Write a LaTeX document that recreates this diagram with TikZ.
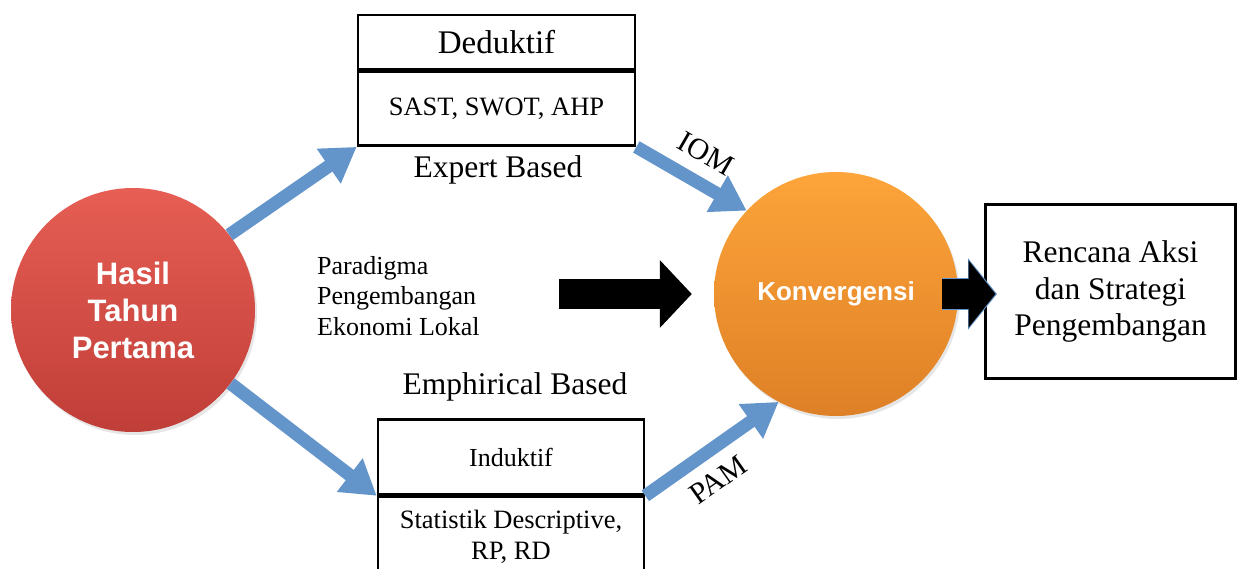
\documentclass[tikz,border=0pt]{standalone}
\usepackage{fontspec}
\setmainfont{Liberation Serif}
\setsansfont{Liberation Sans}
\usetikzlibrary{arrows.meta, positioning, shadows}
\definecolor{arrowblue}{RGB}{99,149,203}
\definecolor{redtop}{RGB}{230,94,84}
\definecolor{redbot}{RGB}{192,62,56}
\definecolor{orgtop}{RGB}{253,164,58}
\definecolor{orgbot}{RGB}{222,128,38}
\newcommand{\ukuran}[2]{\fontsize{#1}{#2}\selectfont}

\begin{document}
\begin{tikzpicture}[x=1pt, y=-1pt,
    box/.style={draw, line width=2.6pt, inner sep=0pt, align=center},
    bola/.style={circle, minimum size=244pt, inner sep=0pt, align=center, text=white,
        drop shadow={opacity=.2, shadow xshift=2pt, shadow yshift=-3pt}},
    panah/.style={arrowblue, line width=13pt, -{Triangle[width=40pt, length=34pt]}},
    hitam/.style={line width=30pt, -{Triangle[width=66pt, length=32pt]}}]
    \useasboundingbox (0,0) rectangle (1244,569);
    \clip (0,0) rectangle (1244,569);
    % kotak atas
    \node[box, minimum width=277pt, minimum height=54pt, font=\ukuran{33}{40}] (ded) at (496.5,42) {Deduktif};
    \node[box, minimum width=277pt, minimum height=74pt, below=0pt of ded, font=\ukuran{26.5}{32}] (sast) {SAST, SWOT, AHP};
    \node[font=\ukuran{31.5}{38}] (expert) at (498,170) {Expert Based};
    % kotak bawah
    \node[font=\ukuran{31.5}{38}] (emp) at (515,387) {Emphirical Based};
    \node[box, minimum width=266pt, minimum height=75pt, font=\ukuran{26}{32}] (ind) at (511,457) {Induktif};
    \node[box, minimum width=266pt, minimum height=80pt, below=0pt of ind, font=\ukuran{26.5}{31}] (stat) {Statistik Descriptive,\\RP, RD};
    \node[font=\ukuran{26}{30.5}, align=left, anchor=west, inner sep=0pt] (para) at (317,296) {Paradigma\\Pengembangan\\Ekonomi Lokal};
    % lingkaran
    \node[bola, top color=redtop, bottom color=redbot, font=\sffamily\bfseries\ukuran{31}{37}] (hasil) at (133,310) {Hasil\\Tahun\\Pertama};
    \node[bola, top color=orgtop, bottom color=orgbot, font=\sffamily\bfseries\ukuran{26}{30}] (konv) at (836,294) {Konvergensi};
    \node[box, line width=3pt, minimum width=250pt, minimum height=174pt, font=\ukuran{31.5}{36.5}] (aksi) at (1110.5,291.5) {Rencana Aksi\\dan Strategi\\Pengembangan};
    % panah biru
    \draw[panah] (hasil.38) -- (sast.south west);
    \draw[panah] (hasil.-37) -- (ind.south west);
    \draw[panah] (sast.south east) -- node[sloped, above=9pt, text=black, font=\ukuran{30}{32}] {IOM} (konv.137);
    \draw[panah] (ind.south east) -- node[sloped, below=9pt, pos=.42, text=black, font=\ukuran{30}{32}] {PAM} (konv.-118);
    % panah hitam
    \coordinate (p1) at (559,294);
    \draw[hitam, shorten >=22pt] (p1) -- (konv.west);
    \coordinate (k1) at (942,294);
    \coordinate (k2) at (997,294);
    \draw[arrowblue, line width=32pt, -{Triangle[width=70pt, length=29pt]}] (k1) -- (k2);
    \draw[line width=30pt, shorten >=1.5pt, -{Triangle[width=66pt, length=27pt]}] (k1) -- (k2);
\end{tikzpicture}
\end{document}
